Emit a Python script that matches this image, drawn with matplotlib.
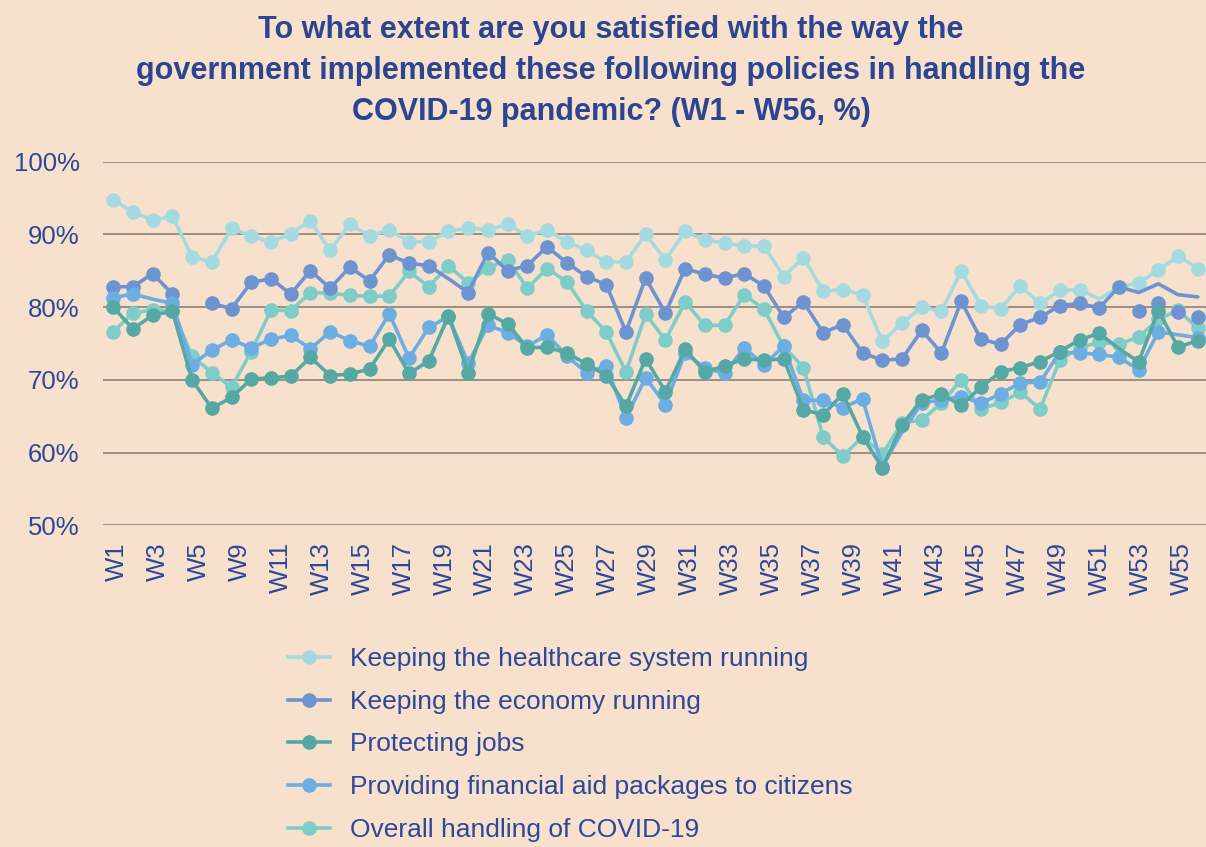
import numpy as np
import matplotlib.pyplot as plt
from matplotlib.lines import Line2D

plt.rcParams['font.family'] = ['Liberation Sans', 'DejaVu Sans']

# tick labels shown under the axis
tick_labels = ["W1", "W3", "W5", "W9", "W11", "W13", "W15", "W17", "W19", "W21",
               "W23", "W25", "W27", "W29", "W31", "W33", "W35", "W37", "W39",
               "W41", "W43", "W45", "W47", "W49", "W51", "W53", "W55"]

# series values (%), one per wave point, None = no value
health = [94.7, 93.1, 91.9, 92.5, 86.9, 86.2, 90.8, 89.8, 88.9, 90.1,
          91.8, 87.8, 91.4, 89.8, 90.6, 89.0, 89.0, 90.4, 90.9, 90.6,
          91.4, 89.8, 90.6, 89.0, 87.8, 86.2, 86.2, 90.0, 86.5, 90.4,
          89.2, 88.8, 88.4, 88.4, 84.2, 86.8, 82.2, 82.4, 81.7, 75.3,
          77.8, 80.0, 79.4, 85.0, 80.2, 79.8, 82.9, 80.5, 82.3, 82.4,
          81.1, 82.8, 83.3, 85.1, 87.0, 85.3]
economy = [82.8, 82.8, 84.6, 81.8, None, 80.5, 79.8, 83.4, 83.9, 81.8,
           85.0, 82.6, 85.5, 83.6, 87.2, 86.0, 85.7, 83.9, 82.0, 87.5,
           85.0, 85.7, 88.3, 86.1, 84.2, 83.1, 76.6, 84.0, 79.2, 85.3,
           84.5, 84.0, 84.6, 82.9, 78.6, 80.7, 76.5, 77.6, 73.7, 72.7,
           72.9, 76.8, 73.7, 80.8, 75.6, 74.9, 77.6, 78.6, 80.2, 80.5,
           79.9, 82.8, 82.0, 83.2, 81.7, 81.4]
economy_dots = [None] * 52 + [79.5, 80.5, 79.3, 78.7]
jobs = [80.0, 77.0, 78.9, 79.4, 70.0, 66.1, 67.6, 70.1, 70.3, 70.5,
        73.1, 70.6, 70.8, 71.5, 75.6, 70.9, 72.6, 78.8, 71.0, 79.1,
        77.7, 74.4, 74.5, 73.7, 72.2, 70.6, 66.4, 72.9, 68.4, 74.2,
        71.1, 71.9, 72.9, 72.7, 72.9, 65.9, 65.2, 68.1, 62.2, 57.9,
        63.8, 67.3, 68.0, 66.5, 69.0, 71.1, 71.7, 72.5, 73.9, 75.5,
        76.4, 74.3, 72.5, 79.5, 74.5, 75.4]
aid = [81.3, 81.8, 81.1, 80.5, 72.1, 74.1, 75.5, 74.4, 75.6, 76.1,
       74.3, 76.6, 75.4, 74.6, 79.1, 73.0, 77.2, 78.7, 72.3, 77.5,
       76.5, 74.6, 76.2, 73.3, 71.0, 71.9, 64.8, 70.3, 66.6, 73.7,
       71.6, 70.9, 74.4, 72.1, 74.6, 67.2, 67.2, 66.2, 67.4, 58.1,
       62.8, 66.8, 67.3, 67.7, 66.8, 68.1, 69.6, 69.7, 73.8, 73.7,
       73.5, 73.1, 71.4, 76.6, 76.2, 75.8]
overall = [76.6, 79.2, 79.6, 79.5, 73.3, 71.0, 69.0, 73.9, 79.6, 79.5,
           82.0, 81.9, 81.6, 81.5, 81.5, 84.9, 82.8, 85.7, 83.3, 85.4,
           86.5, 82.6, 85.3, 83.5, 79.5, 76.6, 71.1, 79.0, 75.5, 80.7,
           77.5, 77.5, 81.7, 79.7, 74.6, 71.7, 62.2, 59.5, 62.2, 59.8,
           64.1, 64.5, 66.8, 70.0, 66.0, 66.9, 68.3, 66.0, 72.7, 74.4,
           75.2, 74.9, 75.9, 78.3, 79.6, 77.1]

# points drawn without a marker
health_nomark = [50]
economy_nomark = [17, 52, 53, 54, 55]
jobs_nomark = [51]
aid_nomark = [2, 40, 54]
overall_nomark = []

labels = ["Keeping the healthcare system running",
          "Keeping the economy running",
          "Protecting jobs",
          "Providing financial aid packages to citizens",
          "Overall handling of COVID-19"]
colors = ["#a5dbe0", "#6d94d1", "#56a8a4", "#6caee2", "#7fcdc8"]

bg = "#f7e1cd"
txt = "#2d4899"

fig = plt.figure(figsize=(12.06, 8.47), dpi=100, facecolor=bg)
ax = fig.add_axes([0.0857, 0.3796, 0.9157, 0.4297], facecolor=bg)

x = np.arange(len(health))


def to_arr(vals):
    return np.array([np.nan if v is None else v for v in vals], dtype=float)


def draw(vals, nomark, color, z):
    y = to_arr(vals)
    ax.plot(x, y, color=color, lw=2.6, zorder=z, solid_joinstyle="round",
            solid_capstyle="round")
    ym = y.copy()
    ym[nomark] = np.nan
    ax.plot(x, ym, ls="none", marker="o", ms=9.5, color=color, zorder=z)


draw(health, health_nomark, colors[0], 2)
draw(overall, overall_nomark, colors[4], 3)
draw(economy, economy_nomark, colors[1], 4)
ax.plot(x, to_arr(economy_dots), ls="none", marker="o", ms=9.5,
        color=colors[1], zorder=4)
draw(aid, aid_nomark, colors[3], 5)
draw(jobs, jobs_nomark, colors[2], 6)

ax.set_xlim(-0.5, 55.5)
ax.set_ylim(50, 100)
ax.set_yticks([50, 60, 70, 80, 90, 100])
ax.set_yticklabels([f"{v}%" for v in [50, 60, 70, 80, 90, 100]])
ax.set_xticks(0.17 + 2.078 * np.arange(len(tick_labels)))
ax.set_xticklabels(tick_labels, rotation=90)
ax.tick_params(axis="both", length=0, labelsize=18.5, labelcolor=txt)
ax.tick_params(axis="y", pad=17)
ax.tick_params(axis="x", pad=12)
for s in ax.spines.values():
    s.set_visible(False)
ax.grid(axis="y", color="#8c8178", lw=1.2, zorder=0)
ax.set_axisbelow(True)

fig.text(611 / 1206, 1 - 71 / 847,
         "To what extent are you satisfied with the way the\n"
         "government implemented these following policies in handling the\n"
         "COVID-19 pandemic? (W1 - W56, %)",
         ha="center", va="center", fontsize=22, fontweight="bold",
         color="#2b4591", linespacing=1.46)

handles = [Line2D([], [], color=c, lw=2.6, marker="o", ms=9.5) for c in colors]
fig.legend(handles, labels, loc="upper left",
           bbox_to_anchor=(288 / 1206, 1 - 647 / 847),
           frameon=False, fontsize=19, labelcolor=txt, handlelength=1.6,
           handletextpad=0.75, labelspacing=0.71, borderpad=0,
           borderaxespad=0)

fig.savefig("out.png", dpi=100, facecolor=bg)
